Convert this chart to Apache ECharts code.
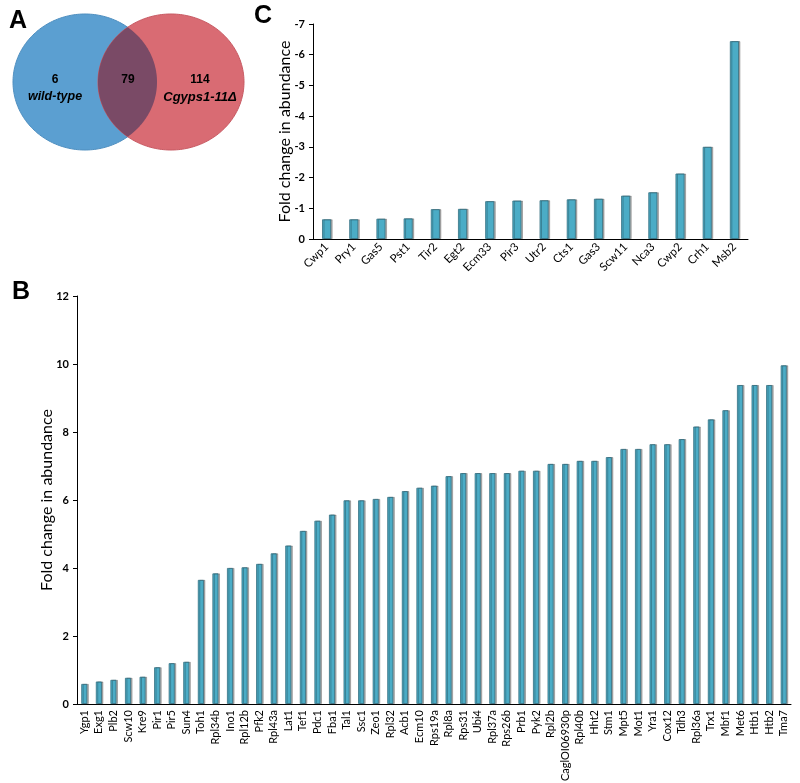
<!DOCTYPE html>
<html>
<head>
<meta charset="utf-8">
<script src="https://cdn.jsdelivr.net/npm/echarts@6/dist/echarts.min.js"></script>
<style>
html,body{margin:0;padding:0;background:#fff;}
#chart{width:800px;height:783px;}
</style>
</head>
<body>
<div id="chart"></div>
<script>
// Panel B: upregulated proteins
var catsB = ['Ygp1','Exg1','Plb2','Scw10','Kre9','Pir1','Pir5','Sun4','Toh1','Rpl34b','Ino1','Rpl12b','Pfk2','Rpl43a','Lat1','Tef1','Pdc1','Fba1','Tal1','Ssc1','Zeo1','Rpl32','Acb1','Ecm10','Rps19a','Rpl8a','Rps31','Ubi4','Rpl37a','Rps26b','Prb1','Pyk2','Rpl2b','CaglOI06930p','Rpl40b','Hht2','Stm1','Mpt5','Mot1','Yra1','Cox12','Tdh3','Rpl36a','Trx1','Mbf1','Met6','Htb1','Htb2','Tma7'];
var valsB = [0.59,0.66,0.71,0.77,0.80,1.08,1.20,1.24,3.65,3.84,4.00,4.02,4.12,4.43,4.66,5.09,5.39,5.57,5.99,5.99,6.03,6.09,6.26,6.36,6.42,6.70,6.79,6.79,6.79,6.79,6.86,6.86,7.06,7.06,7.15,7.15,7.26,7.50,7.50,7.64,7.64,7.79,8.16,8.37,8.64,9.38,9.38,9.38,9.96];
var ticksB = [0,2,4,6,8,10,12];

// Panel C: downregulated proteins
var catsC = ['Cwp1','Pry1','Gas5','Pst1','Tir2','Egt2','Ecm33','Pir3','Utr2','Cts1','Gas3','Scw11','Nca3','Cwp2','Crh1','Msb2'];
var valsC = [-0.64,-0.64,-0.66,-0.67,-0.97,-0.98,-1.23,-1.25,-1.26,-1.29,-1.31,-1.41,-1.52,-2.13,-3.00,-6.44];
var ticksC = [-7,-6,-5,-4,-3,-2,-1,0];

// Panel A: Venn counts
var vennCounts = [6, 79, 114];
var vennNames = ['wild-type', 'Cgyps1-11Δ'];

var FONT = 'Lato, "Open Sans", sans-serif';
var barColor = '#4BACC6';

function ellipsePts(cx, cy, rx, ry, a0, a1, n) {
  var pts = [];
  for (var i = 0; i <= n; i++) {
    var t = a0 + (a1 - a0) * i / n;
    pts.push([cx + rx * Math.cos(t), cy + ry * Math.sin(t)]);
  }
  return pts;
}
function inside(p, e) {
  var dx = (p[0] - e.cx) / e.rx, dy = (p[1] - e.cy) / e.ry;
  return dx * dx + dy * dy <= 1;
}
var eB = {cx: 85, cy: 82, rx: 72, ry: 68};
var eR = {cx: 171, cy: 82, rx: 73, ry: 68};
var lens = ellipsePts(eR.cx, eR.cy, eR.rx, eR.ry, Math.PI / 2, 3 * Math.PI / 2, 200).filter(function (p) { return inside(p, eB); })
  .concat(ellipsePts(eB.cx, eB.cy, eB.rx, eB.ry, -Math.PI / 2, Math.PI / 2, 200).filter(function (p) { return inside(p, eR); }));

var chart = echarts.init(document.getElementById('chart'), null, {renderer: 'canvas'});

var axisLabelStyle = {color: '#000', fontFamily: FONT, fontSize: 11, fontWeight: 'bold'};
var vFont = '"Liberation Sans", Arial, sans-serif';

chart.setOption({
  backgroundColor: '#fff',
  animation: false,
  graphic: [
    {type: 'polygon', shape: {points: ellipsePts(eB.cx, eB.cy, eB.rx, eB.ry, 0, 2 * Math.PI, 240)}, style: {fill: '#5B9FD1', stroke: '#4F8FC0', lineWidth: 1}},
    {type: 'polygon', shape: {points: ellipsePts(eR.cx, eR.cy, eR.rx, eR.ry, 0, 2 * Math.PI, 240)}, style: {fill: '#D96B73', stroke: '#C85A63', lineWidth: 1}},
    {type: 'polygon', shape: {points: lens}, style: {fill: '#7A4A66'}},
    {type: 'text', x: 9, y: 9, style: {text: 'A', font: 'bold 25px ' + vFont, fill: '#000'}},
    {type: 'text', x: 254, y: 4, style: {text: 'C', font: 'bold 25px ' + vFont, fill: '#000'}},
    {type: 'text', x: 12, y: 280, style: {text: 'B', font: 'bold 25px ' + vFont, fill: '#000'}},
    {type: 'text', x: 55, y: 80, style: {text: String(vennCounts[0]), font: 'bold 12px ' + vFont, fill: '#000', align: 'center', verticalAlign: 'middle'}},
    {type: 'text', x: 55, y: 97, style: {text: vennNames[0], font: 'italic bold 12.5px ' + vFont, fill: '#000', align: 'center', verticalAlign: 'middle'}},
    {type: 'text', x: 128, y: 80, style: {text: String(vennCounts[1]), font: 'bold 12px ' + vFont, fill: '#000', align: 'center', verticalAlign: 'middle'}},
    {type: 'text', x: 200, y: 80, style: {text: String(vennCounts[2]), font: 'bold 12px ' + vFont, fill: '#000', align: 'center', verticalAlign: 'middle'}},
    {type: 'text', x: 200, y: 97, style: {text: vennNames[1], font: 'italic bold 13px ' + vFont, fill: '#000', align: 'center', verticalAlign: 'middle'}}
  ],
  grid: [
    {left: 77, top: 296, width: 714, height: 408, containLabel: false, outerBoundsMode: 'none'},
    {left: 313, top: 24, width: 435, height: 215, containLabel: false, outerBoundsMode: 'none'}
  ],
  xAxis: [
    {type: 'category', gridIndex: 0, data: catsB,
     axisLine: {lineStyle: {color: '#000', width: 1}}, axisTick: {show: false},
     axisLabel: Object.assign({}, axisLabelStyle, {rotate: 90, interval: 0, margin: 6, fontWeight: 'normal', fontSize: 11})},
    {type: 'category', gridIndex: 1, data: catsC,
     axisLine: {lineStyle: {color: '#000', width: 1}}, axisTick: {show: false},
     axisLabel: Object.assign({}, axisLabelStyle, {rotate: 45, interval: 0, margin: 6, fontWeight: 'normal', fontSize: 11.5})}
  ],
  yAxis: [
    {type: 'value', gridIndex: 0, min: ticksB[0], max: ticksB[ticksB.length - 1], interval: 2,
     name: 'Fold change in abundance', nameLocation: 'middle', nameGap: 22, nameMoveOverlap: false,
     nameTextStyle: {color: '#000', fontFamily: FONT, fontSize: 16},
     axisLine: {show: true, lineStyle: {color: '#000'}}, axisTick: {show: true, length: 4, lineStyle: {color: '#000'}},
     splitLine: {show: false},
     axisLabel: Object.assign({}, axisLabelStyle, {margin: 8})},
    {type: 'value', gridIndex: 1, min: ticksC[0], max: ticksC[ticksC.length - 1], interval: 1, inverse: true,
     name: 'Fold change in abundance', nameLocation: 'middle', nameGap: 20, nameMoveOverlap: false,
     nameTextStyle: {color: '#000', fontFamily: FONT, fontSize: 16},
     axisLine: {show: true, lineStyle: {color: '#000'}}, axisTick: {show: true, length: 4, lineStyle: {color: '#000'}},
     splitLine: {show: false},
     axisLabel: Object.assign({}, axisLabelStyle, {margin: 8})}
  ],
  series: [
    {type: 'bar', xAxisIndex: 0, yAxisIndex: 0, data: valsB, barWidth: 6,
     itemStyle: {color: barColor, borderColor: '#336E80', borderWidth: 0.8, shadowColor: 'rgba(0,0,0,0.3)', shadowOffsetX: 1.5, shadowBlur: 0}},
    {type: 'bar', xAxisIndex: 1, yAxisIndex: 1, data: valsC, barWidth: 9,
     itemStyle: {color: barColor, borderColor: '#336E80', borderWidth: 0.8, shadowColor: 'rgba(0,0,0,0.3)', shadowOffsetX: 1.5, shadowBlur: 0}}
  ]
});
</script>
</body>
</html>
